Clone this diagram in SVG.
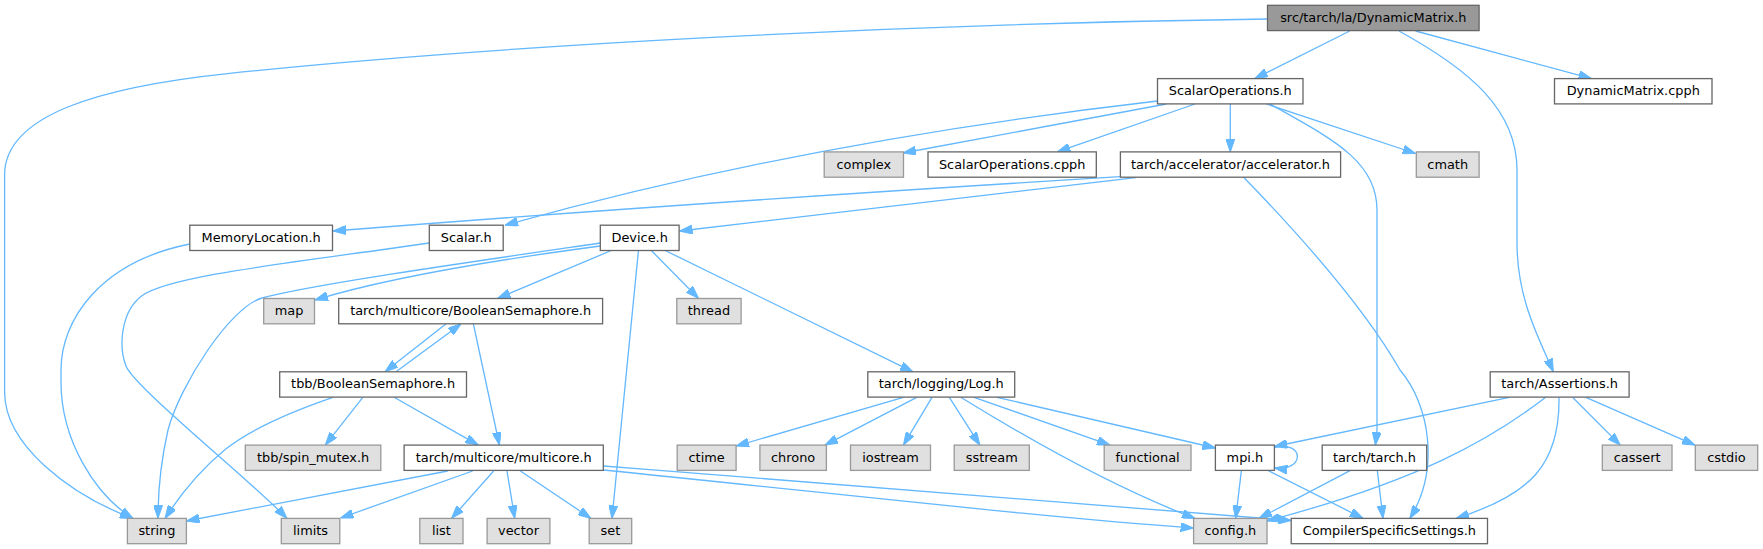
<svg xmlns="http://www.w3.org/2000/svg" width="1763" height="549" viewBox="0 0 1763 549">
<style>
rect{stroke-width:1.3}
.n rect{fill:#ffffff;stroke:#666666}
.g rect{fill:#e0e0e0;stroke:#999999}
.r rect{fill:#999999;stroke:#666666}
text{font-family:"DejaVu Sans","Liberation Sans",sans-serif;font-size:12.9px;text-anchor:middle;fill:#000000}
#edges path{fill:none;stroke:#63b8ff;stroke-width:1.3;marker-end:url(#a)}
</style>
<defs>
<marker id="a" markerUnits="userSpaceOnUse" markerWidth="13" markerHeight="9" viewBox="0 0 13 9" refX="13" refY="4.5" orient="auto">
<path d="M0,0 L13,4.5 L0,9 z" fill="#63b8ff" stroke="#63b8ff" stroke-width="1"/>
</marker>
</defs>
<rect width="1763" height="549" fill="#ffffff"/>
<g id="edges">
<path d="M1349.7,31 L1254.8,78.6"/>
<path d="M1415.6,31 L1591.6,78.6"/>
<path d="M1399,31 C1470,70 1517,110 1517,170 L1517,243 C1517,300 1540,340 1553.3,371.8"/>
<path d="M1267.5,19 C900,24 500,45 229.6,73.3 C99.6,86.9 4.6,115 4.6,175 L4.6,392 C4.6,445 70,495 133,518.4"/>
<path d="M1230.3,104 L1230.3,151.9"/>
<path d="M1266.3,104 L1415.6,153.5"/>
<path d="M1270,104 C1330,138 1377,160 1377,210 L1377,430 L1375.4,445.1"/>
<path d="M1157.5,101 C950,125 720,165 505,225.2"/>
<path d="M1166.3,104 L903,153"/>
<path d="M1195,104 L1057.3,151.9"/>
<path d="M1120.4,176.7 C900,190 600,210 333,231"/>
<path d="M1135.7,177.7 L679.5,231"/>
<path d="M1243.4,177 C1290,225 1360,300 1400,370 C1430,405 1440,470 1409.8,518.4"/>
<path d="M189.8,244 C100,262 61,320 61,370 L61,382 C61,440 95,495 133,518.4"/>
<path d="M429.3,243 C300,262 170,275 141.6,296 C121.6,311 118,345 126,366 C134,387 250,480 287,518.4"/>
<path d="M600.3,243 C450,265 310,285 262,298 C230,307 180,385 168,430 C160,465 158,495 158,518.4"/>
<path d="M600.3,246 C480,262 380,280 315,300"/>
<path d="M612.5,250 L497.5,298.5"/>
<path d="M638.5,250 L612,518.4"/>
<path d="M650.8,250 L698.6,298.5"/>
<path d="M664.2,250 L913,371.8"/>
<path d="M445.8,324 L385,371.8"/>
<path d="M396,371.8 L461,324"/>
<path d="M473.4,324 L499.4,445.1"/>
<path d="M333,397.3 C290,412 250,430 225.8,449 C200,470 180,495 165,518.4"/>
<path d="M362.8,397.3 L325.3,445.1"/>
<path d="M394.1,397.3 L478.3,445.1"/>
<path d="M447.7,471 L186.4,521"/>
<path d="M472.6,471 L340.6,518"/>
<path d="M493.6,471 L451.5,518.4"/>
<path d="M507,471 L514.7,518.4"/>
<path d="M520.4,471 L591,518.4"/>
<path d="M603.3,466 C850,485 1100,505 1291.2,520.5"/>
<path d="M603.3,470 C850,495 1050,518 1193.6,528"/>
<path d="M903.4,397.3 L736.1,446"/>
<path d="M916.7,397.3 L825,445.1"/>
<path d="M932,397.3 L903.4,445.1"/>
<path d="M949.3,397.3 L979.9,445.1"/>
<path d="M974.1,397.3 L1110,445.1"/>
<path d="M997,397.3 L1215.4,448"/>
<path d="M960.7,397.3 C1030,440 1120,490 1195,518.4"/>
<path d="M1509.3,397.3 L1274.4,446.5"/>
<path d="M1274.4,447.5 C1305,440 1305,472 1274.4,468"/>
<path d="M1241.4,470.4 L1235.7,518.4"/>
<path d="M1268,470.4 L1363,518.4"/>
<path d="M1350.5,470.4 L1259,518.4"/>
<path d="M1377.3,470.4 L1383,518.4"/>
<path d="M1545.7,397.3 C1490,440 1420,480 1267,521"/>
<path d="M1559,397.3 C1560,465 1530,495 1456,518.4"/>
<path d="M1572.5,397.3 L1620.3,445.1"/>
<path d="M1585.9,397.3 L1695,445.1"/>
</g>
<g id="DynamicMatrix_h" class="r"><rect x="1267.5" y="5.3" width="211.6" height="25.3"/><text x="1373.3" y="21.9">src/tarch/la/DynamicMatrix.h</text></g>
<g id="ScalarOperations_h" class="n"><rect x="1157.5" y="78.6" width="145.5" height="25.3"/><text x="1230.25" y="95.2">ScalarOperations.h</text></g>
<g id="DynamicMatrix_cpph" class="n"><rect x="1554.5" y="78.6" width="157.5" height="25.3"/><text x="1633.25" y="95.2">DynamicMatrix.cpph</text></g>
<g id="complex" class="g"><rect x="824.2" y="151.9" width="79.3" height="25.3"/><text x="863.85" y="168.5">complex</text></g>
<g id="ScalarOperations_cpph" class="n"><rect x="928" y="151.9" width="168.3" height="25.3"/><text x="1012.15" y="168.5">ScalarOperations.cpph</text></g>
<g id="accelerator_h" class="n"><rect x="1120.4" y="151.9" width="220.2" height="25.3"/><text x="1230.5" y="168.5">tarch/accelerator/accelerator.h</text></g>
<g id="cmath" class="g"><rect x="1416.3" y="151.9" width="62.8" height="25.3"/><text x="1447.7" y="168.5">cmath</text></g>
<g id="MemoryLocation_h" class="n"><rect x="189.8" y="225.2" width="142.7" height="25.3"/><text x="261.15" y="241.8">MemoryLocation.h</text></g>
<g id="Scalar_h" class="n"><rect x="429.3" y="225.2" width="73.9" height="25.3"/><text x="466.25" y="241.8">Scalar.h</text></g>
<g id="Device_h" class="n"><rect x="600.3" y="225.2" width="78.8" height="25.3"/><text x="639.7" y="241.8">Device.h</text></g>
<g id="map" class="g"><rect x="263.7" y="298.5" width="50.8" height="25.3"/><text x="289.1" y="315.1">map</text></g>
<g id="multicore_BooleanSemaphore_h" class="n"><rect x="338.7" y="298.5" width="263.9" height="25.3"/><text x="470.65" y="315.1">tarch/multicore/BooleanSemaphore.h</text></g>
<g id="thread" class="g"><rect x="676.8" y="298.5" width="64.3" height="25.3"/><text x="708.95" y="315.1">thread</text></g>
<g id="tbb_BooleanSemaphore_h" class="n"><rect x="279.7" y="371.8" width="186.8" height="25.3"/><text x="373.1" y="388.4">tbb/BooleanSemaphore.h</text></g>
<g id="Log_h" class="n"><rect x="867.8" y="371.8" width="146.9" height="25.3"/><text x="941.25" y="388.4">tarch/logging/Log.h</text></g>
<g id="Assertions_h" class="n"><rect x="1490.2" y="371.8" width="138.9" height="25.3"/><text x="1559.65" y="388.4">tarch/Assertions.h</text></g>
<g id="spin_mutex_h" class="g"><rect x="245.3" y="445.1" width="135.5" height="25.3"/><text x="313.05" y="461.7">tbb/spin_mutex.h</text></g>
<g id="multicore_h" class="n"><rect x="404.1" y="445.1" width="199.2" height="25.3"/><text x="503.7" y="461.7">tarch/multicore/multicore.h</text></g>
<g id="ctime" class="g"><rect x="677.2" y="445.1" width="58.9" height="25.3"/><text x="706.65" y="461.7">ctime</text></g>
<g id="chrono" class="g"><rect x="759.9" y="445.1" width="66.5" height="25.3"/><text x="793.15" y="461.7">chrono</text></g>
<g id="iostream" class="g"><rect x="850.5" y="445.1" width="80" height="25.3"/><text x="890.5" y="461.7">iostream</text></g>
<g id="sstream" class="g"><rect x="954.2" y="445.1" width="75.1" height="25.3"/><text x="991.75" y="461.7">sstream</text></g>
<g id="functional" class="g"><rect x="1104.2" y="445.1" width="86.8" height="25.3"/><text x="1147.6" y="461.7">functional</text></g>
<g id="mpi_h" class="n"><rect x="1215.4" y="445.1" width="59" height="25.3"/><text x="1244.9" y="461.7">mpi.h</text></g>
<g id="tarch_h" class="n"><rect x="1322.2" y="445.1" width="104.5" height="25.3"/><text x="1374.45" y="461.7">tarch/tarch.h</text></g>
<g id="cassert" class="g"><rect x="1602.3" y="445.1" width="69.7" height="25.3"/><text x="1637.15" y="461.7">cassert</text></g>
<g id="cstdio" class="g"><rect x="1695.3" y="445.1" width="62.4" height="25.3"/><text x="1726.5" y="461.7">cstdio</text></g>
<g id="string" class="g"><rect x="127.4" y="518.4" width="59" height="25.3"/><text x="156.9" y="535">string</text></g>
<g id="limits" class="g"><rect x="281.3" y="518.4" width="58.5" height="25.3"/><text x="310.55" y="535">limits</text></g>
<g id="list" class="g"><rect x="419.8" y="518.4" width="43.2" height="25.3"/><text x="441.4" y="535">list</text></g>
<g id="vector" class="g"><rect x="487.1" y="518.4" width="62.8" height="25.3"/><text x="518.5" y="535">vector</text></g>
<g id="set" class="g"><rect x="589.2" y="518.4" width="42.5" height="25.3"/><text x="610.45" y="535">set</text></g>
<g id="config_h" class="g"><rect x="1193.6" y="518.4" width="73.4" height="25.3"/><text x="1230.3" y="535">config.h</text></g>
<g id="CompilerSpecificSettings_h" class="n"><rect x="1291.2" y="518.4" width="196.3" height="25.3"/><text x="1389.35" y="535">CompilerSpecificSettings.h</text></g>
</svg>
